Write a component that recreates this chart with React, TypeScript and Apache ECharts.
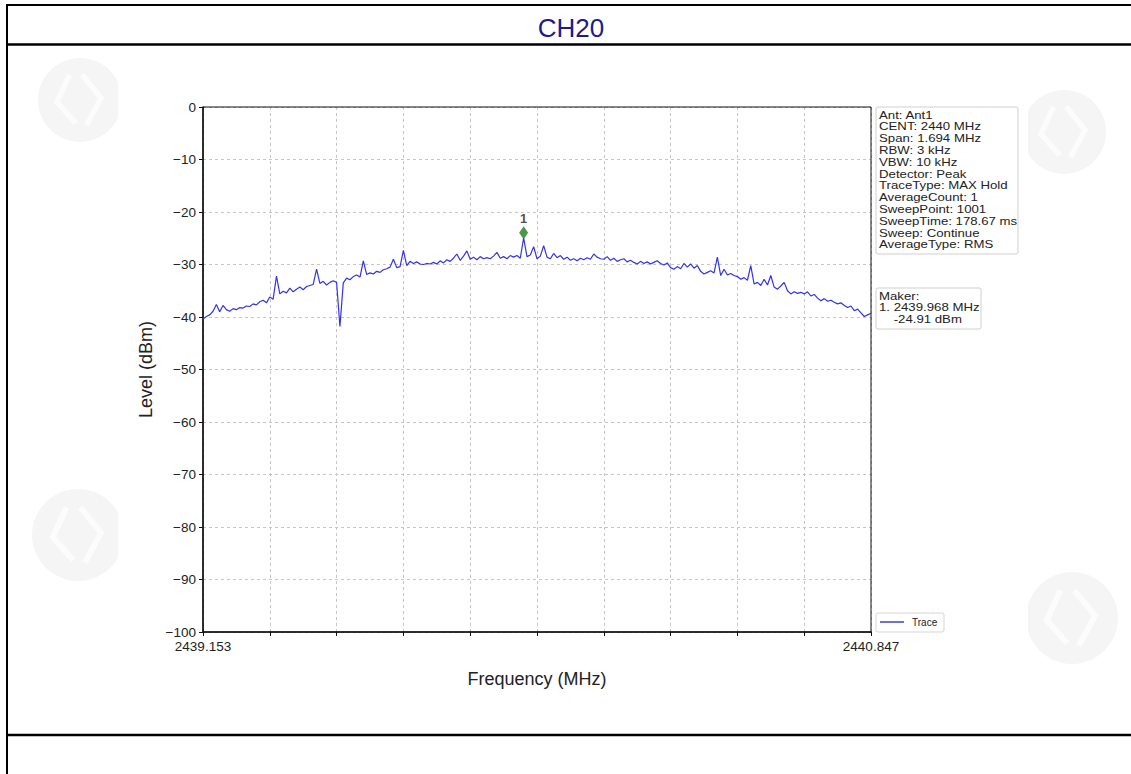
import React, { useEffect, useRef } from "react";
import * as echarts from "echarts";

// Sweep settings
const sweepPoints = 1001;
const sampleStep = 5; // one plotted value every 5 sweep points
const startFreqLabel = "2439.153";
const stopFreqLabel = "2440.847";
const yTicks = [0, -10, -20, -30, -40, -50, -60, -70, -80, -90, -100];

// Trace levels (dBm), one per 5 sweep points (201 values)
const traceLevels = [
  -40.4, -39.9, -39.6, -38.9, -37.6, -39.0, -37.8, -38.6, -38.9, -38.4,
  -38.6, -38.2, -38.3, -37.9, -38.0, -37.5, -37.7, -37.1, -36.8, -37.3,
  -36.2, -36.6, -32.2, -35.6, -35.1, -35.4, -34.5, -35.2, -34.7, -34.3,
  -34.8, -34.2, -34.0, -33.8, -30.9, -33.6, -33.2, -33.9, -33.4, -33.1,
  -33.4, -41.8, -33.5, -32.6, -32.9, -32.3, -32.0, -32.4, -29.3, -31.9,
  -31.6, -31.8, -31.3, -31.5, -31.0, -30.8, -30.5, -29.0, -30.6, -30.4,
  -27.3, -30.2, -29.4, -29.8, -29.5, -29.9, -30.0, -29.8, -29.9, -29.6,
  -29.9, -29.3, -29.7, -29.1, -29.4, -28.8, -28.0, -29.2, -28.4, -27.4,
  -29.0, -28.6, -29.1, -28.5, -28.9, -28.7, -28.9, -28.4, -27.7, -28.8,
  -28.5, -28.9, -28.3, -28.6, -28.3, -28.8, -24.91, -28.5, -28.2, -26.6,
  -28.9, -28.4, -26.4, -28.6, -28.9, -27.9, -28.7, -28.3, -29.0, -28.6,
  -29.2, -28.9, -29.3, -28.8, -29.1, -28.7, -29.0, -28.0, -28.6, -28.9,
  -29.0, -28.5, -29.2, -28.8, -29.4, -29.1, -28.9, -29.5, -29.2, -29.6,
  -29.9, -29.4, -29.8, -29.5, -29.9, -29.6, -29.3, -29.8, -30.1, -29.7,
  -30.6, -30.9, -30.4, -30.8, -29.8, -30.5, -29.9, -30.7, -30.2, -31.3,
  -31.8, -31.5, -31.2, -31.6, -28.6, -32.1, -30.9, -32.0, -31.7, -32.1,
  -32.3, -32.8, -32.5, -33.0, -30.2, -33.7, -33.4, -34.0, -32.8, -33.9,
  -32.1, -34.3, -34.7, -34.1, -33.4, -35.0, -35.6, -35.2, -35.5, -35.3,
  -35.6, -35.2, -36.0, -35.7, -36.4, -36.9, -36.5, -37.0, -36.8, -37.2,
  -37.5, -37.3, -37.8, -38.2, -37.9, -38.8, -38.5, -39.2, -39.9, -39.6,
  -39.3,
];

// Marker 1
const markerIndex = 480;
const markerLevel = -24.91;
const markerLabel = "1";

const infoLines = [
  "Ant: Ant1",
  "CENT: 2440 MHz",
  "Span: 1.694 MHz",
  "RBW: 3 kHz",
  "VBW: 10 kHz",
  "Detector: Peak",
  "TraceType: MAX Hold",
  "AverageCount: 1",
  "SweepPoint: 1001",
  "SweepTime: 178.67 ms",
  "Sweep: Continue",
  "AverageType: RMS",
];
const makerLines = ["Maker:", "1. 2439.968 MHz", "    -24.91 dBm"];

const FONT = "'Liberation Sans', Arial, sans-serif";

function watermark(cx: number, cy: number, r: number) {
  return {
    type: "group",
    silent: true,
    z: 0,
    children: [
      { type: "circle", z: 0, shape: { cx, cy, r }, style: { fill: "#f5f5f5" } },
      {
        type: "polyline",
        z: 0,
        shape: {
          points: [
            [cx - r * 0.25, cy - r * 0.6],
            [cx - r * 0.55, cy + r * 0.05],
            [cx - r * 0.1, cy + r * 0.55],
          ],
        },
        style: { stroke: "#fcfcfc", lineWidth: r * 0.13, fill: "none" },
      },
      {
        type: "polyline",
        z: 0,
        shape: {
          points: [
            [cx + r * 0.05, cy - r * 0.6],
            [cx + r * 0.5, cy - r * 0.05],
            [cx + r * 0.15, cy + r * 0.6],
          ],
        },
        style: { stroke: "#fcfcfc", lineWidth: r * 0.13, fill: "none" },
      },
    ],
  };
}

export default function App() {
  const ref = useRef<HTMLDivElement>(null);

  useEffect(() => {
    if (!ref.current) return;
    const chart = echarts.init(ref.current, undefined, { renderer: "svg" });

    const traceData = traceLevels.map((v, i) => [i * sampleStep, v]);
    const lastIndex = sweepPoints - 1;

    const option: any = {
      animation: false,
      backgroundColor: "#ffffff",
      grid: {
        left: 203,
        top: 107,
        right: 260,
        bottom: 142,
        show: true,
        borderColor: "#111",
        borderWidth: 1,
        backgroundColor: "transparent",
        z: 3,
      },
      xAxis: {
        type: "value",
        z: 2,
        min: 0,
        max: lastIndex,
        interval: 100,
        name: "Frequency (MHz)",
        nameLocation: "middle",
        nameGap: 38,
        nameTextStyle: { fontFamily: FONT, fontSize: 18, color: "#222" },
        axisLine: { show: true, onZero: false, lineStyle: { color: "#111", width: 1.5 } },
        axisTick: { show: true, inside: false, length: 4, lineStyle: { color: "#111" } },
        axisLabel: {
          fontFamily: FONT,
          fontSize: 13.5,
          color: "#222",
          margin: 7,
          showMinLabel: true,
          showMaxLabel: true,
          formatter: (v: number) =>
            v === 0 ? startFreqLabel : v === lastIndex ? stopFreqLabel : "",
        },
        splitLine: { show: true, lineStyle: { color: "#c6c6c6", type: [3, 3], width: 1 } },
      },
      yAxis: {
        type: "value",
        z: 2,
        min: yTicks[yTicks.length - 1],
        max: yTicks[0],
        interval: 10,
        name: "Level (dBm)",
        nameLocation: "middle",
        nameRotate: 90,
        nameGap: 47,
        nameTextStyle: { fontFamily: FONT, fontSize: 18, color: "#222" },
        axisLine: { show: true, lineStyle: { color: "#111", width: 1.5 } },
        axisTick: { show: true, inside: false, length: 4, lineStyle: { color: "#111" } },
        axisLabel: {
          fontFamily: FONT,
          fontSize: 13.5,
          color: "#222",
          margin: 7,
          formatter: (v: number) => (v === 0 ? "0" : "\u2212" + Math.abs(v)),
        },
        splitLine: { show: true, lineStyle: { color: "#c6c6c6", type: [3, 3], width: 1 } },
      },
      series: [
        {
          name: "Trace",
          type: "line",
          data: traceData,
          showSymbol: false,
          symbol: "none",
          lineStyle: { color: "#3434e4", width: 1.2 },
          z: 4,
        },
        {
          name: "Marker",
          type: "scatter",
          data: [[markerIndex, markerLevel]],
          symbol: "diamond",
          symbolSize: [9, 13],
          symbolOffset: [0, -5],
          itemStyle: { color: "#1c801c" },
          label: {
            show: true,
            position: "top",
            distance: 1,
            formatter: markerLabel,
            fontFamily: FONT,
            fontSize: 13,
            fontWeight: "bold",
            color: "#222",
          },
          z: 6,
        },
      ],
      graphic: [
        watermark(80, 100, 42),
        watermark(78, 535, 46),
        watermark(1064, 132, 42),
        watermark(1072, 618, 46),
        {
          type: "rect",
          silent: true,
          z: 1,
          shape: { x: 118, y: 50, width: 910, height: 680 },
          style: { fill: "#ffffff" },
        },
        // table borders
        { type: "line", z: 2, shape: { x1: 6, y1: 5, x2: 1131, y2: 5 }, style: { stroke: "#000", lineWidth: 2 } },
        { type: "line", z: 2, shape: { x1: 7, y1: 4, x2: 7, y2: 774 }, style: { stroke: "#000", lineWidth: 2 } },
        { type: "line", z: 2, shape: { x1: 6, y1: 44.5, x2: 1131, y2: 44.5 }, style: { stroke: "#000", lineWidth: 2.5 } },
        { type: "line", z: 2, shape: { x1: 6, y1: 735, x2: 1131, y2: 735 }, style: { stroke: "#000", lineWidth: 2.5 } },
        // title
        {
          type: "text",
          z: 2,
          x: 571,
          y: 28,
          style: {
            text: "CH20",
            fontFamily: FONT,
            fontSize: 26,
            fill: "#1c1c8e",
            align: "center",
            verticalAlign: "middle",
          },
        },
        // info box
        {
          type: "rect",
          shape: { x: 876, y: 107, width: 142, height: 147, r: 2 },
          style: { fill: "#fff", stroke: "#cfcfcf", lineWidth: 1 },
          z: 10,
        },
        {
          type: "text",
          x: 879,
          y: 109,
          scaleX: 1.12,
          style: {
            text: infoLines.join("\n"),
            fontFamily: FONT,
            fontSize: 11.8,
            lineHeight: 11.8,
            fill: "#222",
            align: "left",
            verticalAlign: "top",
          },
          z: 11,
        },
        // maker box
        {
          type: "rect",
          shape: { x: 876, y: 288, width: 105, height: 41, r: 2 },
          style: { fill: "#fff", stroke: "#cfcfcf", lineWidth: 1 },
          z: 10,
        },
        {
          type: "text",
          x: 879,
          y: 290,
          scaleX: 1.12,
          style: {
            text: makerLines.join("\n"),
            fontFamily: FONT,
            fontSize: 11.8,
            lineHeight: 11.8,
            fill: "#222",
            align: "left",
            verticalAlign: "top",
          },
          z: 11,
        },
        // legend
        {
          type: "rect",
          shape: { x: 876, y: 613, width: 68, height: 19, r: 2 },
          style: { fill: "#fff", stroke: "#d5d5d5", lineWidth: 1 },
          z: 10,
        },
        {
          type: "line",
          shape: { x1: 880, y1: 622, x2: 904, y2: 622 },
          style: { stroke: "#2020c8", lineWidth: 1.3 },
          z: 11,
        },
        {
          type: "text",
          x: 912,
          y: 622,
          style: {
            text: "Trace",
            fontFamily: FONT,
            fontSize: 10,
            fill: "#222",
            align: "left",
            verticalAlign: "middle",
          },
          z: 11,
        },
      ],
    };

    chart.setOption(option);
    return () => chart.dispose();
  }, []);

  return (
    <div
      style={{
        position: "fixed",
        left: 0,
        top: 0,
        width: 1131,
        height: 774,
        background: "#fff",
      }}
    >
      <div ref={ref} style={{ width: 1131, height: 774 }} />
    </div>
  );
}
